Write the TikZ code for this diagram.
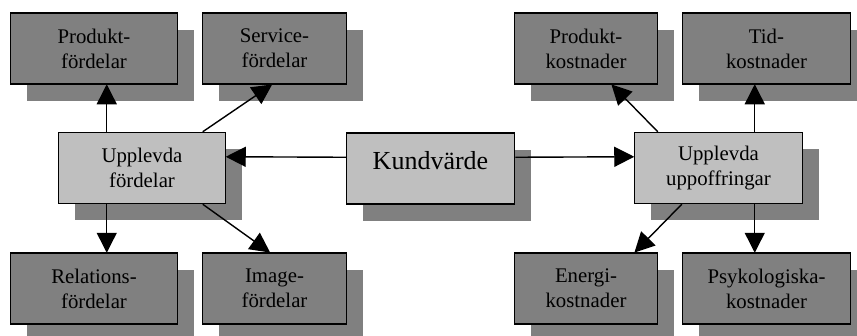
\documentclass[tikz,border=0pt]{standalone}
\usepackage{fontspec}
\setmainfont{Liberation Serif}
\usetikzlibrary{shadows,calc,arrows.meta}
\definecolor{darkbox}{gray}{0.5}
\definecolor{lightbox}{gray}{0.75}
\tikzset{
  basebox/.style={draw=black, line width=1.5pt, inner sep=0pt, align=center,
    minimum height=71pt,
    font=\fontsize{20.8}{25}\selectfont,
    general shadow={fill=darkbox, shadow xshift=16.5pt, shadow yshift=-16.5pt}},
  darkbox/.style={basebox, fill=darkbox},
  lightbox/.style={basebox, fill=lightbox},
  arr/.style={line width=1.4pt, -{Triangle[length=20pt,width=20pt]}, shorten >=-0.5pt}
}
\begin{document}
\begin{tikzpicture}[x=1pt,y=-1pt]
\useasboundingbox (0,0) rectangle (857,335);
\clip (0,0) rectangle (857,335);
% left group
\node[darkbox, minimum width=167pt] (PF) at (94,48.5) {Produkt-\\fördelar};
\node[darkbox, minimum width=144pt] (SF) at (274.5,48.5) {Service-\\fördelar};
\node[lightbox, minimum width=167pt] (UF) at (142,168) {Upplevda\\fördelar};
\node[darkbox, minimum width=167pt] (RF) at (94,288.5) {Relations-\\fördelar};
\node[darkbox, minimum width=144pt] (IF) at (274.5,288.5) {Image-\\fördelar};
% centre
\node[lightbox, minimum width=168pt, font=\fontsize{26}{30}\selectfont,
      text height=10pt, text depth=9pt] (KV) at (430.5,168.5) {Kundvärde};
% right group
\node[darkbox, minimum width=143pt] (PK) at (586,48.5) {Produkt-\\kostnader};
\node[darkbox, minimum width=168pt] (TK) at (766.5,48.5) {Tid-\\kostnader};
\node[lightbox, minimum width=168pt] (UU) at (718.5,168) {Upplevda\\uppoffringar};
\node[darkbox, minimum width=143pt] (EK) at (586,288.5) {Energi-\\kostnader};
\node[darkbox, minimum width=168pt] (PsK) at (766.5,288.5) {Psykologiska-\\kostnader};
% connectors
\draw[arr] ($(UF.north west)+(49,0)$) -- ($(PF.south west)+(97,0)$);
\draw[arr] ($(UF.north west)+(145,0)$) -- ($(SF.south west)+(70,0)$);
\draw[arr] ($(UF.south west)+(49,0)$) -- ($(RF.north west)+(97,0)$);
\draw[arr] ($(UF.south west)+(145,0)$) -- ($(IF.north west)+(68,0)$);
\draw[arr] ($(KV.north west)+(0,25)$) -- ($(UF.north east)+(0,25)$);
\draw[arr] ($(KV.north east)+(0,25)$) -- ($(UU.north west)+(0,25)$);
\draw[arr] ($(UU.north west)+(24,0)$) -- ($(PK.south west)+(98,0)$);
\draw[arr] ($(UU.north west)+(121,0)$) -- ($(TK.south west)+(73,0)$);
\draw[arr] ($(UU.south west)+(48,0)$) -- ($(EK.north west)+(121,0)$);
\draw[arr] ($(UU.south west)+(121,0)$) -- ($(PsK.north west)+(73,0)$);
\end{tikzpicture}
\end{document}
